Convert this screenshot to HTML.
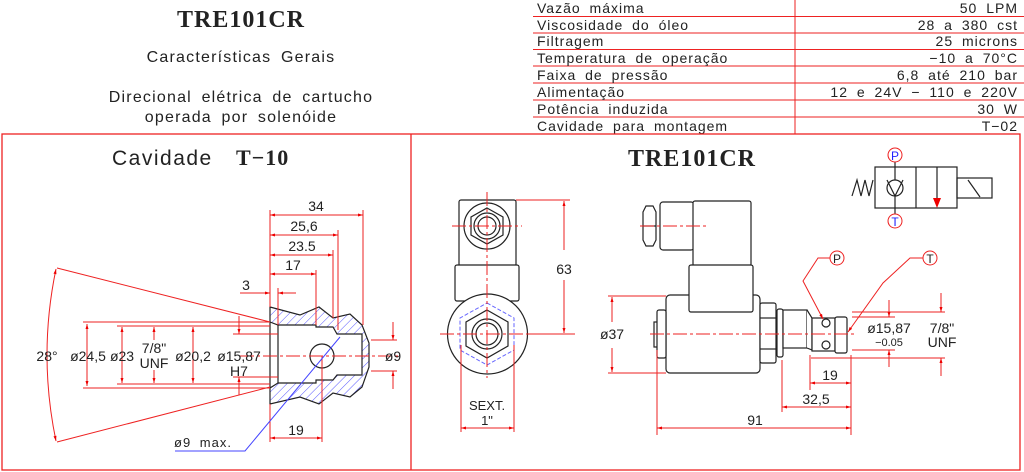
<!DOCTYPE html>
<html><head><meta charset="utf-8"><style>
html,body{margin:0;padding:0;background:#fff}
svg{display:block}
text{font-family:"Liberation Sans",sans-serif;fill:#222}
.s{font-family:"Liberation Serif",serif;font-weight:bold;letter-spacing:1px}
.w{letter-spacing:1.2px;word-spacing:4px}
.t{letter-spacing:1px;word-spacing:4px}
</style></head><body>
<svg width="1024" height="472" viewBox="0 0 1024 472" xmlns="http://www.w3.org/2000/svg">
<defs>
<marker id="a" viewBox="0 0 10 10" refX="10" refY="5" markerWidth="7" markerHeight="5" orient="auto-start-reverse"><path d="M0,2 L10,5 L0,8z" fill="#e00"/></marker>
<pattern id="h" width="6" height="6" patternUnits="userSpaceOnUse" patternTransform="rotate(45)"><line x1="0" y1="0" x2="0" y2="6" stroke="#55f" stroke-width="1"/></pattern>
</defs>
<!-- top titles -->
<text x="241" y="27" font-size="24" text-anchor="middle" class="s">TRE101CR</text>
<text x="241" y="62" font-size="16" text-anchor="middle" class="w">Características Gerais</text>
<text x="241" y="102" font-size="16" text-anchor="middle" class="w">Direcional elétrica de cartucho</text>
<text x="241" y="122" font-size="16" text-anchor="middle" class="w">operada por solenóide</text>
<!-- table -->
<g stroke="#e22" stroke-width="1">
<line x1="533" y1="16.5" x2="1024" y2="16.5"/><line x1="533" y1="33" x2="1024" y2="33"/><line x1="533" y1="49.5" x2="1024" y2="49.5"/><line x1="533" y1="66" x2="1024" y2="66"/><line x1="533" y1="83" x2="1024" y2="83"/><line x1="533" y1="100" x2="1024" y2="100"/><line x1="533" y1="117" x2="1024" y2="117"/>
<line x1="795" y1="0" x2="795" y2="134"/>
</g>
<g font-size="14" class="t">
<text x="537" y="13">Vazão máxima</text><text x="1018" y="13" text-anchor="end">50 LPM</text>
<text x="537" y="30">Viscosidade do óleo</text><text x="1018" y="30" text-anchor="end">28 a 380 cst</text>
<text x="537" y="46">Filtragem</text><text x="1018" y="46" text-anchor="end">25 microns</text>
<text x="537" y="63">Temperatura de operação</text><text x="1018" y="63" text-anchor="end">−10 a 70°C</text>
<text x="537" y="80">Faixa de pressão</text><text x="1018" y="80" text-anchor="end">6,8 até 210 bar</text>
<text x="537" y="97">Alimentação</text><text x="1018" y="97" text-anchor="end">12 e 24V − 110 e 220V</text>
<text x="537" y="114">Potência induzida</text><text x="1018" y="114" text-anchor="end">30 W</text>
<text x="537" y="131">Cavidade para montagem</text><text x="1018" y="131" text-anchor="end">T−02</text>
</g>
<!-- frame -->
<g stroke="#e22" fill="none" stroke-width="1.3">
<rect x="2" y="134" width="1018" height="336"/>
<line x1="411" y1="134" x2="411" y2="470"/>
</g>

<!-- CAVITY -->
<text x="112" y="165" font-size="21" style="letter-spacing:1.5px">Cavidade</text>
<text x="236" y="165" font-size="22" class="s">T−10</text>
<path d="M270,307 L300,315 L319,307 L333,318 L350,314 L362,325 L369,343 L369,367 L362,387 L350,397 L333,393 L319,404 L300,397 L270,404 L270,388 L278,383 L316,383 L316,380 L333,380 L337,375 L362,375 L362,334 L337,334 L333,327 L316,327 L316,325 L278,325 L270,322 Z" fill="url(#h)" stroke="#222" stroke-width="1.2"/>
<path d="M278,325 L278,383 M270,322 L270,388" stroke="#222" fill="none" stroke-width="1.2"/>
<circle cx="322" cy="356" r="12" fill="#fff" stroke="#222" stroke-width="1.2"/>
<g stroke="#e22" fill="none" stroke-width="1">
<line x1="240" y1="356" x2="400" y2="356" stroke-dasharray="14,3,3,3"/>
<line x1="83" y1="322" x2="270" y2="322"/><line x1="83" y1="388" x2="270" y2="388"/>
<line x1="117" y1="326" x2="270" y2="326"/><line x1="117" y1="384" x2="270" y2="384"/>
<line x1="233" y1="334" x2="278" y2="334"/><line x1="233" y1="377" x2="278" y2="377"/>
<line x1="87" y1="324" x2="87" y2="386" marker-start="url(#a)" marker-end="url(#a)"/>
<line x1="122" y1="327" x2="122" y2="383" marker-start="url(#a)" marker-end="url(#a)"/>
<line x1="154" y1="327" x2="154" y2="340" marker-start="url(#a)"/><line x1="154" y1="370" x2="154" y2="383" marker-end="url(#a)"/>
<line x1="193" y1="327" x2="193" y2="383" marker-start="url(#a)" marker-end="url(#a)"/>
<line x1="239" y1="316" x2="239" y2="334" marker-end="url(#a)"/><line x1="239" y1="377" x2="239" y2="395" marker-start="url(#a)"/>
<line x1="57" y1="268" x2="270" y2="322"/><line x1="57" y1="442" x2="270" y2="387"/>
<path d="M56,269 Q38,355 56,441" marker-start="url(#a)" marker-end="url(#a)"/>
<line x1="270" y1="210" x2="270" y2="307"/>
<line x1="363" y1="210" x2="363" y2="325"/><line x1="338" y1="230" x2="338" y2="330"/><line x1="333" y1="250" x2="333" y2="318"/><line x1="316" y1="270" x2="316" y2="325"/><line x1="278" y1="288" x2="278" y2="325"/>
<line x1="270" y1="215" x2="363" y2="215" marker-start="url(#a)" marker-end="url(#a)"/>
<line x1="270" y1="235" x2="338" y2="235" marker-start="url(#a)" marker-end="url(#a)"/>
<line x1="270" y1="255" x2="333" y2="255" marker-start="url(#a)" marker-end="url(#a)"/>
<line x1="270" y1="274" x2="316" y2="274" marker-start="url(#a)" marker-end="url(#a)"/>
<line x1="240" y1="293" x2="270" y2="293" marker-end="url(#a)"/><line x1="296" y1="293" x2="278" y2="293" marker-end="url(#a)"/>
<line x1="270" y1="404" x2="270" y2="442"/><line x1="322" y1="356" x2="322" y2="442"/>
<line x1="270" y1="438" x2="322" y2="438" marker-start="url(#a)" marker-end="url(#a)"/>
<line x1="371" y1="340" x2="397" y2="340"/><line x1="371" y1="371" x2="397" y2="371"/>
<line x1="393" y1="322" x2="393" y2="340" marker-end="url(#a)"/><line x1="393" y1="389" x2="393" y2="371" marker-end="url(#a)"/>
</g>
<polyline points="175,451 245,451 340,337" stroke="#44f" fill="none" stroke-width="1"/>
<g font-size="14">
<text x="316" y="211" text-anchor="middle">34</text><text x="304" y="231" text-anchor="middle">25,6</text><text x="302" y="251" text-anchor="middle">23.5</text><text x="293" y="270" text-anchor="middle">17</text><text x="246" y="290" text-anchor="middle">3</text>
<text x="296" y="435" text-anchor="middle">19</text>
<text x="47" y="361" text-anchor="middle">28°</text>
<text x="88" y="361" text-anchor="middle">ø24,5</text><text x="122" y="361" text-anchor="middle">ø23</text>
<text x="154" y="353" text-anchor="middle">7/8"</text><text x="154" y="368" text-anchor="middle">UNF</text>
<text x="193" y="361" text-anchor="middle">ø20,2</text><text x="239" y="361" text-anchor="middle">ø15,87</text><text x="239" y="376" text-anchor="middle">H7</text>
<text x="393" y="361" text-anchor="middle">ø9</text>
<text x="174" y="447" font-size="13" class="t">ø9 max.</text>
</g>

<!-- VALVE PANEL -->
<text x="692" y="166" font-size="24" text-anchor="middle" class="s">TRE101CR</text>
<!-- front view -->
<g stroke="#222" fill="#fff" stroke-width="1.2">
<rect x="459" y="200" width="57" height="66" rx="2"/>
<rect x="455" y="265" width="64" height="36" rx="2"/>
<circle cx="487" cy="226" r="23"/>
<polygon points="487,208 503,217 503,235 487,244 471,235 471,217"/>
<circle cx="487" cy="226" r="13"/><circle cx="487" cy="226" r="9"/>
<circle cx="487.5" cy="334" r="40"/>
<polygon points="487,310 508,322 508,346 487,358 466,346 466,322"/>
<circle cx="487" cy="334" r="15"/><circle cx="487" cy="334" r="11"/>
</g>
<polygon points="487,303 514,318 514,350 487,365 460,350 460,318" fill="none" stroke="#66f" stroke-dasharray="4,2"/>
<g stroke="#e22" fill="none" stroke-width="1">
<line x1="487" y1="192" x2="487" y2="378" stroke-dasharray="14,3,3,3"/>
<line x1="452" y1="226" x2="522" y2="226" stroke-dasharray="14,3,3,3"/>
<line x1="440" y1="334" x2="535" y2="334" stroke-dasharray="14,3,3,3"/>
<line x1="516" y1="200" x2="570" y2="200"/><line x1="527" y1="334" x2="575" y2="334"/>
<line x1="564" y1="201" x2="564" y2="250" marker-start="url(#a)"/><line x1="564" y1="280" x2="564" y2="333" marker-end="url(#a)"/>
<line x1="461" y1="345" x2="461" y2="432"/><line x1="514" y1="345" x2="514" y2="432"/>
<line x1="461" y1="428" x2="514" y2="428" marker-start="url(#a)" marker-end="url(#a)"/>
</g>
<text x="564" y="274" font-size="14" text-anchor="middle">63</text>
<text x="487" y="410" font-size="13" text-anchor="middle">SEXT.</text>
<text x="487" y="425" font-size="13" text-anchor="middle">1"</text>
<!-- side view -->
<g stroke="#222" fill="#fff" stroke-width="1.2">
<path d="M646,206 L653,206 L656,212 L656,240 L653,246 L646,246 L643,240 L643,212 Z"/>
<line x1="643" y1="226" x2="656" y2="226"/>
<rect x="660" y="202" width="34" height="48" rx="3"/>
<rect x="693" y="201" width="58" height="65" rx="2"/>
<rect x="666" y="295" width="94" height="78" rx="4"/>
<rect x="689" y="265" width="64" height="47" rx="2"/>
<rect x="654" y="322" width="4" height="25"/>
<rect x="657" y="310" width="9" height="48" rx="2"/>
<rect x="760" y="303" width="16" height="60" rx="2"/>
<line x1="760" y1="318" x2="776" y2="318"/><line x1="760" y1="349" x2="776" y2="349"/>
<rect x="777" y="309" width="6" height="48" rx="2"/>
<rect x="783" y="310" width="24" height="38"/>
<path d="M807,310 L812,318 L812,350 L807,348"/>
<rect x="812" y="318" width="23" height="33"/>
<rect x="835" y="317" width="12" height="36" rx="2"/>
<circle cx="826" cy="323" r="4"/><circle cx="826" cy="345" r="4"/>
</g>
<g stroke="#e22" fill="none" stroke-width="1">
<line x1="640" y1="226" x2="708" y2="226" stroke-dasharray="14,3,3,3"/>
<line x1="650" y1="334" x2="855" y2="334" stroke-dasharray="14,3,3,3"/>
<line x1="608" y1="296" x2="666" y2="296"/><line x1="608" y1="373" x2="666" y2="373"/>
<line x1="612" y1="297" x2="612" y2="322" marker-start="url(#a)"/><line x1="612" y1="348" x2="612" y2="372" marker-end="url(#a)"/>
<line x1="852" y1="312" x2="945" y2="312"/><line x1="811" y1="358" x2="945" y2="358"/>
<line x1="852" y1="317" x2="895" y2="317"/><line x1="852" y1="350" x2="895" y2="350"/>
<line x1="941" y1="293" x2="941" y2="312" marker-end="url(#a)"/><line x1="941" y1="376" x2="941" y2="358" marker-end="url(#a)"/>
<line x1="889" y1="300" x2="889" y2="317" marker-end="url(#a)"/><line x1="889" y1="367" x2="889" y2="350" marker-end="url(#a)"/>
<line x1="657" y1="350" x2="657" y2="435"/><line x1="782" y1="360" x2="782" y2="412"/><line x1="810" y1="355" x2="810" y2="390"/><line x1="851" y1="355" x2="851" y2="435"/>
<line x1="810" y1="383" x2="851" y2="383" marker-start="url(#a)" marker-end="url(#a)"/>
<line x1="782" y1="407" x2="851" y2="407" marker-start="url(#a)" marker-end="url(#a)"/>
<line x1="657" y1="428" x2="851" y2="428" marker-start="url(#a)" marker-end="url(#a)"/>
<circle cx="837" cy="258" r="7"/><circle cx="930" cy="258" r="7"/>
<polyline points="830,258 818,258 803,281 823,319" marker-end="url(#a)"/>
<polyline points="923,258 910,258 883,283 848,332" marker-end="url(#a)"/>
</g>
<g font-size="14">
<text x="612" y="339" text-anchor="middle">ø37</text>
<text x="889" y="333" text-anchor="middle">ø15,87</text><text x="889" y="346" font-size="11" text-anchor="middle">−0.05</text>
<text x="942" y="333" text-anchor="middle">7/8"</text><text x="942" y="347" text-anchor="middle">UNF</text>
<text x="830" y="380" text-anchor="middle">19</text><text x="816" y="404" text-anchor="middle">32,5</text><text x="755" y="425" text-anchor="middle">91</text>
<text x="837" y="263" font-size="12" text-anchor="middle">P</text><text x="930" y="263" font-size="12" text-anchor="middle">T</text>
</g>
<!-- symbol -->
<g stroke="#222" fill="none" stroke-width="1.2">
<rect x="875" y="167" width="82" height="41"/>
<line x1="916" y1="167" x2="916" y2="208"/>
<rect x="957" y="178" width="35" height="20"/><line x1="968" y1="180" x2="980" y2="197"/>
<polyline points="852,196 857,180 861,196 865,180 869,196 873,180"/>
<circle cx="895" cy="188" r="8"/>
<polyline points="887,180 895,196 903,180"/>
<line x1="895" y1="162" x2="895" y2="180"/><line x1="895" y1="196" x2="895" y2="214"/>
</g>
<line x1="937" y1="167" x2="937" y2="200" stroke="#222" stroke-width="1.2"/>
<path d="M933,198 L941,198 L937,208 Z" fill="#e00"/>
<circle cx="895" cy="155" r="7" fill="#fff" stroke="#e22"/>
<circle cx="895" cy="221" r="7" fill="#fff" stroke="#e22"/>
<text x="895" y="160" font-size="12" text-anchor="middle" style="fill:#22f">P</text>
<text x="895" y="226" font-size="12" text-anchor="middle" style="fill:#22f">T</text>
</svg>
</body></html>
